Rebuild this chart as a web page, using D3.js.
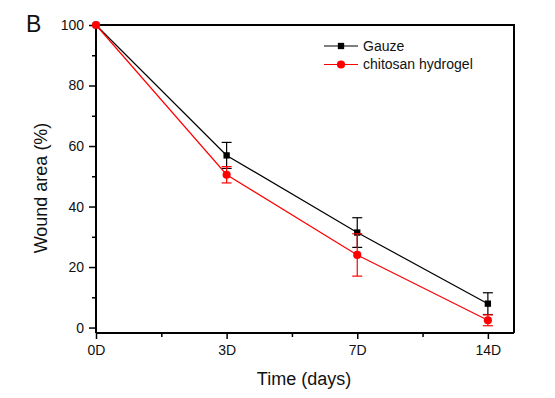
<!DOCTYPE html>
<html>
<head>
<meta charset="utf-8">
<script src="https://cdn.jsdelivr.net/npm/d3@7"></script>
<style>
    html, body { margin: 0; padding: 0; background: #fff; }
    svg { display: block; font-family: Arial, "Liberation Sans", sans-serif; }
    .axis text { font-size: 14px; font-family: Arial, "Liberation Sans", sans-serif; fill: #111; }
</style>
</head>
<body>
<svg class="main" width="555" height="398"></svg>
<script>
// data
var days = ["0D", "3D", "7D", "14D"],
    gauze = [100, 56.9, 31.4, 7.9],
    gauzeErr = [0, 4.3, 4.9, 3.6],
    chitosan = [100, 50.5, 24.0, 2.4],
    chitosanErr = [0, 2.7, 7.0, 1.8],
    yTicks = [0, 20, 40, 60, 80, 100],
    yMinor = [10, 30, 50, 70, 90];

var series = [
    { name: "Gauze", values: gauze, err: gauzeErr, color: "#000", shape: "square" },
    { name: "chitosan hydrogel", values: chitosan, err: chitosanErr, color: "#ff0000", shape: "circle" }
];

var frame = { left: 96, right: 514, top: 25, bottom: 333 },
    main = d3.select(".main");

var x = d3.scaleLinear().domain([0, 3.2]).range([frame.left, frame.right]),
    y = d3.scaleLinear().domain([-1.8, 100]).range([frame.bottom, frame.top]);

function markSymbol(s, size) {
    return d3.symbol().type(s.shape === "square" ? d3.symbolSquare : d3.symbolCircle).size(size);
}

// frame top / right
main.append("path")
    .attr("d", "M" + frame.left + "," + frame.top + "H" + frame.right + "V" + frame.bottom)
    .attr("fill", "none")
    .attr("stroke", "#000")
    .attr("stroke-width", 2);

// y axis
var yAxis = main.append("g")
    .classed("axis", 1)
    .attr("transform", "translate(" + frame.left + ",0)")
    .call(d3.axisLeft(y).tickValues(yTicks).tickSize(7).tickPadding(5));
main.append("g")
    .attr("transform", "translate(" + frame.left + ",0)")
    .call(d3.axisLeft(y).tickValues(yMinor).tickSize(4).tickFormat(""))
    .select(".domain").remove();

// x axis
var xAxis = main.append("g")
    .classed("axis", 1)
    .attr("transform", "translate(0," + frame.bottom + ")")
    .call(d3.axisBottom(x).tickValues([0, 1, 2, 3]).tickSize(6).tickPadding(6)
        .tickFormat(function(d) { return days[d]; }));
main.append("g")
    .attr("transform", "translate(0," + frame.bottom + ")")
    .call(d3.axisBottom(x).tickValues([0.5, 1.5, 2.5]).tickSize(4).tickFormat(""))
    .select(".domain").remove();

main.selectAll(".domain").attr("stroke-width", 2);
main.selectAll(".tick line").attr("stroke-width", 1.5);
yAxis.select(".domain").attr("d", "M0," + frame.bottom + "V" + frame.top);
xAxis.select(".domain").attr("d", "M" + frame.left + ",0H" + frame.right);

// lines, error bars, markers
var line = d3.line()
    .x(function(d, i) { return x(i); })
    .y(function(d) { return y(d); });

series.forEach(function(s) {
    var g = main.append("g");
    g.append("path")
        .datum(s.values)
        .attr("d", line)
        .attr("fill", "none")
        .attr("stroke", s.color)
        .attr("stroke-width", 1.2);

    var bars = g.selectAll(".err")
        .data(s.values.map(function(v, i) { return { i: i, v: v, e: s.err[i] }; })
            .filter(function(d) { return d.e > 0; }))
        .enter().append("g")
        .attr("stroke", s.color)
        .attr("stroke-width", 1.2);
    bars.append("line")
        .attr("x1", function(d) { return x(d.i); })
        .attr("x2", function(d) { return x(d.i); })
        .attr("y1", function(d) { return y(d.v - d.e); })
        .attr("y2", function(d) { return y(d.v + d.e); });
    [-1, 1].forEach(function(sign) {
        bars.append("line")
            .attr("x1", function(d) { return x(d.i) - 5; })
            .attr("x2", function(d) { return x(d.i) + 5; })
            .attr("y1", function(d) { return y(d.v + sign * d.e); })
            .attr("y2", function(d) { return y(d.v + sign * d.e); });
    });

    g.selectAll(".mark")
        .data(s.values)
        .enter().append("path")
        .attr("transform", function(d, i) { return "translate(" + x(i) + "," + y(d) + ")"; })
        .attr("d", markSymbol(s, s.shape === "square" ? 40 : 52))
        .attr("fill", s.color);
});

// legend
var legend = main.append("g").attr("transform", "translate(324,46)");
series.forEach(function(s, i) {
    var row = legend.append("g").attr("transform", "translate(0," + (i * 18.5) + ")");
    row.append("line")
        .attr("x1", 0).attr("x2", 34)
        .attr("stroke", s.color)
        .attr("stroke-width", 1.2);
    row.append("path")
        .attr("transform", "translate(17,0)")
        .attr("d", markSymbol(s, s.shape === "square" ? 40 : 52))
        .attr("fill", s.color);
    row.append("text")
        .attr("x", 39)
        .attr("dy", "0.35em")
        .attr("font-size", 14)
        .attr("fill", "#111")
        .text(s.name);
});

// titles
main.append("text")
    .attr("transform", "translate(47,188) rotate(-90)")
    .attr("text-anchor", "middle")
    .attr("font-size", 18)
    .attr("fill", "#111")
    .text("Wound area (%)");
main.append("text")
    .attr("x", 304)
    .attr("y", 385)
    .attr("text-anchor", "middle")
    .attr("font-size", 18)
    .attr("fill", "#111")
    .text("Time (days)");
main.append("text")
    .attr("x", 26)
    .attr("y", 32)
    .attr("font-size", 23)
    .attr("fill", "#111")
    .text("B");
</script>
</body>
</html>
